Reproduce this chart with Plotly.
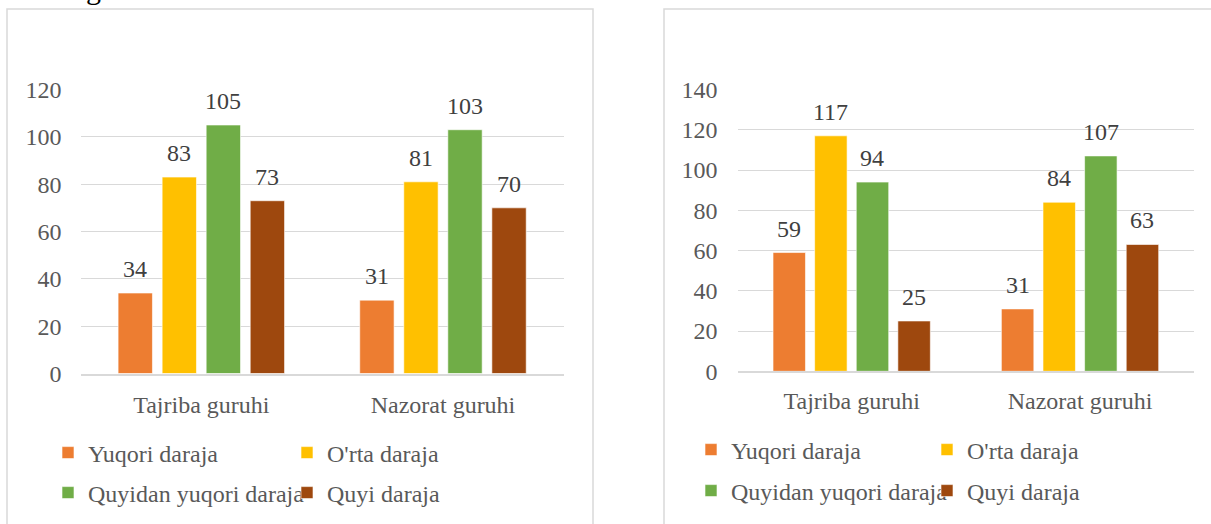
import plotly.graph_objects as go

# ---- data ----
categories = ["Tajriba guruhi", "Nazorat guruhi"]
series_names = ["Yuqori daraja", "O'rta daraja", "Quyidan yuqori daraja", "Quyi daraja"]
series_colors = ["#ED7D31", "#FFC000", "#70AD47", "#9E480E"]

left_yuqori = [34, 31]
left_orta = [83, 81]
left_quyidan = [105, 103]
left_quyi = [73, 70]

right_yuqori = [59, 31]
right_orta = [117, 84]
right_quyidan = [94, 107]
right_quyi = [25, 63]

left_ticks = [0, 20, 40, 60, 80, 100, 120]
right_ticks = [0, 20, 40, 60, 80, 100, 120, 140]

W, H = 1211, 524
FONT = "Liberation Serif"
GREY = "#595959"
GRID = "#D9D9D9"
BARGAP = 0.271
BARGROUPGAP = 0.22


def px(x):
    return x / W


def py(y):
    return 1 - y / H


left_series = [left_yuqori, left_orta, left_quyidan, left_quyi]
right_series = [right_yuqori, right_orta, right_quyidan, right_quyi]

# plot-area geometry (pixels)
LEFT_X = (80.5, 563.8)
RIGHT_X = (737.5, 1194.2)

fig = go.Figure()
annotations = []


def add_panel(series, xa, ya, legends, xr):
    n = len(series)
    cat_w = (xr[1] - xr[0]) / len(categories)
    slot = cat_w * (1 - BARGAP) / n
    for i, (name, color) in enumerate(zip(series_names, series_colors)):
        fig.add_trace(go.Bar(
            x=categories, y=series[i], name=name,
            marker=dict(color=color, line=dict(color="rgba(255,255,255,0.6)", width=1)),
            xaxis=xa, yaxis=ya,
            legend=legends[0] if i < 2 else legends[1],
            showlegend=True, hoverinfo="x+y+name",
        ))
        # value labels above each bar
        for c, v in zip(categories, series[i]):
            annotations.append(dict(
                text=str(v), x=c, y=v, xref=xa, yref=ya,
                xanchor="center", yanchor="middle",
                xshift=(i - (n - 1) / 2) * slot, yshift=24,
                showarrow=False,
                font=dict(family=FONT, size=24, color="#404040"),
            ))


add_panel(left_series, "x", "y", ("legend", "legend2"), LEFT_X)
add_panel(right_series, "x2", "y2", ("legend3", "legend4"), RIGHT_X)

axis_font = dict(family=FONT, size=24, color=GREY)


def legend_cfg(x, y, ew):
    return dict(
        orientation="h", entrywidth=ew, entrywidthmode="pixels",
        font=axis_font, bgcolor="rgba(0,0,0,0)", xanchor="left", yanchor="middle",
        traceorder="normal", x=px(x), y=py(y),
    )


annotations.append(dict(
    text="g", xref="paper", yref="paper", x=px(93), y=1,
    xanchor="center", yanchor="bottom", yshift=-7, showarrow=False,
    font=dict(family=FONT, size=30, color="black"),
))

fig.update_layout(
    template="none",
    width=W, height=H,
    margin=dict(l=0, r=0, t=0, b=0, pad=0, autoexpand=False),
    paper_bgcolor="white", plot_bgcolor="white",
    barmode="group", bargap=BARGAP, bargroupgap=BARGROUPGAP,
    font=dict(family=FONT, size=24, color=GREY),
    xaxis=dict(domain=[px(LEFT_X[0]), px(LEFT_X[1])], anchor="y", showgrid=False,
               showline=True, linecolor=GRID, linewidth=1.5, ticks="",
               tickfont=axis_font, ticklabelstandoff=9, fixedrange=True,
               automargin=False),
    yaxis=dict(domain=[py(373.5), py(89.5)], anchor="x", range=[0, 120],
               tickvals=left_ticks, showgrid=True, gridcolor=GRID, gridwidth=1.3,
               zeroline=False, showline=False, ticks="", tickfont=axis_font,
               ticklabelstandoff=18, fixedrange=True, automargin=False),
    xaxis2=dict(domain=[px(RIGHT_X[0]), px(RIGHT_X[1])], anchor="y2", showgrid=False,
                showline=True, linecolor=GRID, linewidth=1.5, ticks="",
                tickfont=axis_font, ticklabelstandoff=7, fixedrange=True,
                automargin=False),
    yaxis2=dict(domain=[py(371.3), py(89.5)], anchor="x2", range=[0, 140],
                tickvals=right_ticks, showgrid=True, gridcolor=GRID, gridwidth=1.3,
                zeroline=False, showline=False, ticks="", tickfont=axis_font,
                ticklabelstandoff=19, fixedrange=True, automargin=False),
    legend=legend_cfg(48, 453, 194),
    legend2=legend_cfg(48, 493, 194),
    legend3=legend_cfg(691, 450, 191),
    legend4=legend_cfg(691, 491, 191),
    shapes=[
        dict(type="rect", xref="paper", yref="paper",
             x0=px(7), x1=px(593), y0=-0.1, y1=py(9),
             line=dict(color=GRID, width=1.5), layer="below"),
        dict(type="rect", xref="paper", yref="paper",
             x0=px(664), x1=1.1, y0=-0.1, y1=py(9),
             line=dict(color=GRID, width=1.5), layer="below"),
    ],
    annotations=annotations,
)

fig.write_html("out.html", config={"displayModeBar": False},
               post_script="document.body.style.margin='0';")
